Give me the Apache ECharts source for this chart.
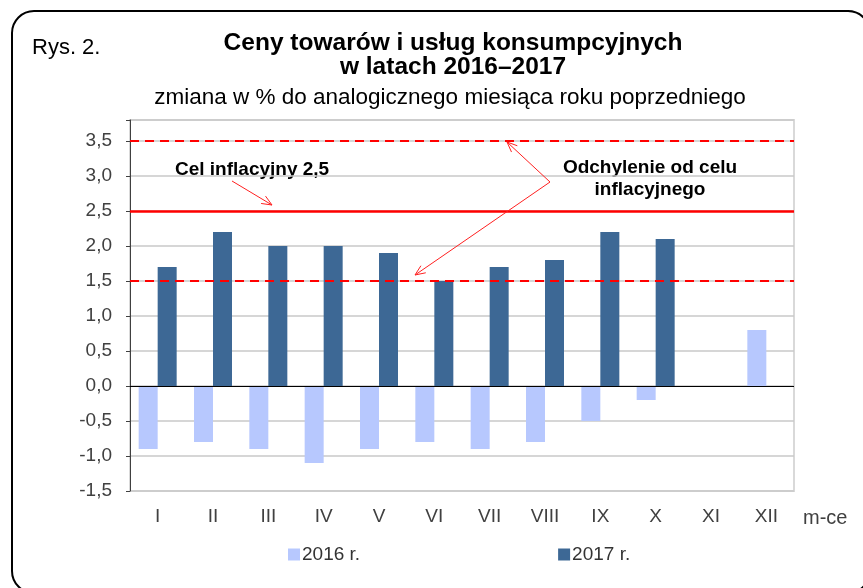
<!DOCTYPE html>
<html>
<head>
<meta charset="utf-8">
<script src="https://cdn.jsdelivr.net/npm/echarts@6/dist/echarts.min.js"></script>
<style>
  html, body { margin: 0; padding: 0; background: #fff; }
  #chart { width: 863px; height: 588px; }
</style>
</head>
<body>
<div id="chart"></div>
<script>
var months = ['I', 'II', 'III', 'IV', 'V', 'VI', 'VII', 'VIII', 'IX', 'X', 'XI', 'XII'];
var values2016 = [-0.9, -0.8, -0.9, -1.1, -0.9, -0.8, -0.9, -0.8, -0.5, -0.2, 0.0, 0.8];
var values2017 = [1.7, 2.2, 2.0, 2.0, 1.9, 1.5, 1.7, 1.8, 2.2, 2.1, null, null];
var target = 2.5;
var bandLow = 1.5;
var bandHigh = 3.5;

var FONT = '"Liberation Sans", Arial, sans-serif';

// arrow built from a line and two short strokes at the head
function arrow(x1, y1, x2, y2) {
    var ang = Math.atan2(y2 - y1, x2 - x1);
    var len = 11, spread = 0.4;
    var style = { stroke: '#ff2020', lineWidth: 1 };
    return [
        { type: 'line', shape: { x1: x1, y1: y1, x2: x2, y2: y2 }, style: style, z: 100 },
        { type: 'polyline', shape: { points: [
            [x2 - len * Math.cos(ang - spread), y2 - len * Math.sin(ang - spread)],
            [x2, y2],
            [x2 - len * Math.cos(ang + spread), y2 - len * Math.sin(ang + spread)]
        ] }, style: style, z: 100 }
    ];
}

var myChart = echarts.init(document.getElementById('chart'));

var graphics = [
    {
        type: 'rect',
        shape: { x: 12, y: 11, width: 858, height: 582, r: 22 },
        style: { fill: 'none', stroke: '#000', lineWidth: 2 },
        silent: true
    },
    {
        type: 'text',
        style: { x: 32, y: 48, text: 'Rys. 2.', font: '22px ' + FONT, fill: '#000', verticalAlign: 'middle' }
    },
    {
        type: 'text',
        style: { x: 803, y: 518, text: 'm-ce', font: '20px ' + FONT, fill: '#404040', verticalAlign: 'middle' }
    },
    {
        type: 'text',
        style: { x: 175, y: 170, text: 'Cel inflacyjny 2,5', font: 'bold 19px ' + FONT, fill: '#000',
            verticalAlign: 'middle' }
    },
    {
        type: 'text',
        style: { x: 650, y: 157, text: 'Odchylenie od celu\ninflacyjnego', font: 'bold 19px ' + FONT, fill: '#000',
            align: 'center', verticalAlign: 'top', lineHeight: 22 }
    }
];
graphics = graphics
    .concat(arrow(232, 181, 272, 205))
    .concat(arrow(550, 182, 507, 142))
    .concat(arrow(550, 182, 415, 275));

myChart.setOption({
    animation: false,
    color: ['#b7c8fe', '#3d6895'],
    title: [
        {
            text: 'Ceny towarów i usług konsumpcyjnych\nw latach 2016–2017',
            left: 448, top: 26, textAlign: 'center',
            textStyle: { fontFamily: FONT, fontSize: 24.5, fontWeight: 'bold', color: '#000', lineHeight: 24 }
        },
        {
            text: 'zmiana w % do analogicznego miesiąca roku poprzedniego',
            left: 445, top: 81, textAlign: 'center',
            textStyle: { fontFamily: FONT, fontSize: 22.5, fontWeight: 'normal', color: '#000' }
        }
    ],
    legend: {
        left: 288, top: 545, padding: 0,
        itemWidth: 12, itemHeight: 12, itemGap: 198,
        icon: 'rect',
        textStyle: { fontFamily: FONT, fontSize: 19, color: '#333', padding: [0, 0, 0, -3] },
        data: ['2016 r.', '2017 r.']
    },
    grid: {
        left: 130, right: 69, top: 120, bottom: 97,
        show: true, borderColor: '#d9d9d9', borderWidth: 2
    },
    xAxis: {
        type: 'category',
        data: months,
        axisLine: { show: false },
        axisTick: { show: false },
        axisLabel: { fontFamily: FONT, fontSize: 19, color: '#404040', margin: 16 }
    },
    yAxis: {
        type: 'value',
        min: -1.5, max: 3.8, interval: 0.5,
        axisLine: { show: true, lineStyle: { color: '#404040', width: 1 } },
        axisTick: { show: true, length: 4, lineStyle: { color: '#404040' } },
        axisLabel: {
            fontFamily: FONT, fontSize: 19, color: '#404040', margin: 18,
            formatter: function (v) {
                if (Math.abs(v * 2 - Math.round(v * 2)) > 1e-6) return '';
                return v.toFixed(1).replace('.', ',');
            }
        },
        splitLine: { lineStyle: { color: '#c8c8c8', width: 1.5 } }
    },
    series: [
        {
            name: '2016 r.',
            type: 'bar',
            barWidth: 19,
            barGap: 0,
            data: values2016
        },
        {
            name: '2017 r.',
            type: 'bar',
            barWidth: 19,
            data: values2017,
            markLine: {
                silent: true,
                symbol: 'none',
                label: { show: false },
                data: [
                    { yAxis: 0, lineStyle: { color: '#000', width: 1, type: 'solid' } },
                    { yAxis: bandHigh, lineStyle: { color: '#ff0000', width: 2, type: [9, 6] } },
                    { yAxis: bandLow, lineStyle: { color: '#ff0000', width: 2, type: [9, 6] } },
                    { yAxis: target, lineStyle: { color: '#ff0000', width: 2.5, type: 'solid' } }
                ]
            }
        }
    ],
    graphic: graphics
});
</script>
</body>
</html>
